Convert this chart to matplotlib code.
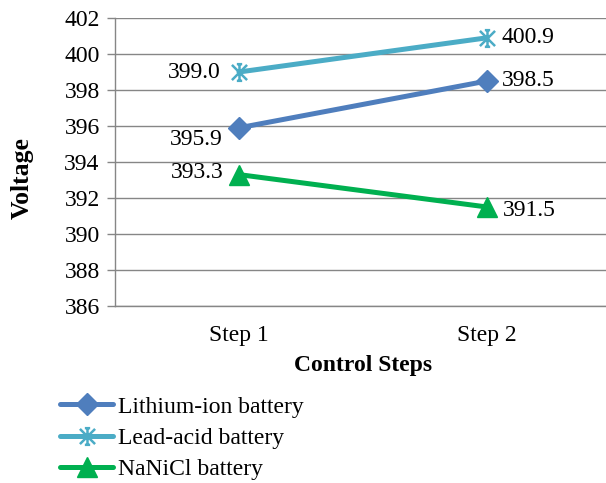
import matplotlib
matplotlib.use('Agg')
import matplotlib.pyplot as plt
from matplotlib.path import Path

steps = ['Step 1', 'Step 2']
lithium_ion = [395.9, 398.5]
lead_acid = [399.0, 400.9]
nanicl = [393.3, 391.5]
y_ticks = list(range(386, 403, 2))

plt.rcParams['font.family'] = ['Liberation Serif', 'DejaVu Serif']
plt.rcParams['font.size'] = 17

# Excel style star marker: an X with a vertical bar and small caps
star = Path(
    [(-1, -1), (1, 1), (-1, 1), (1, -1), (0, -1.1), (0, 1.1),
     (-0.35, 1.1), (0.35, 1.1), (-0.35, -1.1), (0.35, -1.1)],
    [Path.MOVETO, Path.LINETO] * 5)


def main():
    fig = plt.figure(figsize=(6.06, 4.83), dpi=100)
    ax = fig.add_axes([115 / 606, 1 - 306 / 483, 496 / 606, 288 / 483])
    x = range(len(steps))
    grey = '#868686'

    series = [
        ('Lithium-ion battery', lithium_ion, '#4F7EBD', 'D', 11),
        ('Lead-acid battery', lead_acid, '#4BACC6', star, 12),
        ('NaNiCl battery', nanicl, '#00B050', '^', 14),
    ]
    handles = []
    for label, vals, color, marker, ms in series:
        mew = 1.8 if marker is star else 1
        ln, = ax.plot(x, vals, color=color, lw=3.6, marker=marker,
                      markersize=ms, markeredgewidth=mew,
                      markeredgecolor=color, markerfacecolor=color,
                      solid_capstyle='round', label=label, zorder=3,
                      clip_on=False)
        handles.append(ln)

    # data label offsets in pixels
    offsets = {
        'Lithium-ion battery': [(-43, -12), (41, 0)],
        'Lead-acid battery': [(-45, 0), (41, 0)],
        'NaNiCl battery': [(-42, 2), (42, -3)],
    }
    for label, vals, color, marker, ms in series:
        for i, v in enumerate(vals):
            ax.annotate(f'{v:.1f}', (i, v), xytext=offsets[label][i],
                        textcoords='offset pixels', ha='center',
                        va='center')

    ax.set_xlim(-0.5, 1.5)
    ax.set_ylim(386, 402)
    ax.set_yticks(y_ticks)
    ax.set_xticks(list(x))
    ax.set_xticklabels(steps)
    ax.tick_params(axis='x', length=0, pad=14)
    ax.tick_params(axis='y', length=6, color=grey, width=1, pad=5)
    ax.yaxis.grid(True, color=grey, lw=1)
    ax.set_axisbelow(True)
    for s in ('top', 'right'):
        ax.spines[s].set_visible(False)
    for s in ('left', 'bottom'):
        ax.spines[s].set_color(grey)
        ax.spines[s].set_linewidth(1)

    ax.set_xlabel('Control Steps', fontweight='bold', labelpad=6)
    ax.set_ylabel('Voltage', fontweight='bold', fontsize=18.5,
                  va='center')
    ax.yaxis.set_label_coords(-93 / 496, 128 / 288)

    fig.legend(handles=handles, loc='upper left',
               bbox_to_anchor=(60 / 606, 1 - 396 / 483), frameon=False,
               handlelength=2.25, handletextpad=0.2, labelspacing=0.42,
               borderaxespad=0, borderpad=0)

    fig.savefig('out.png', dpi=100)


if __name__ == '__main__':
    main()
